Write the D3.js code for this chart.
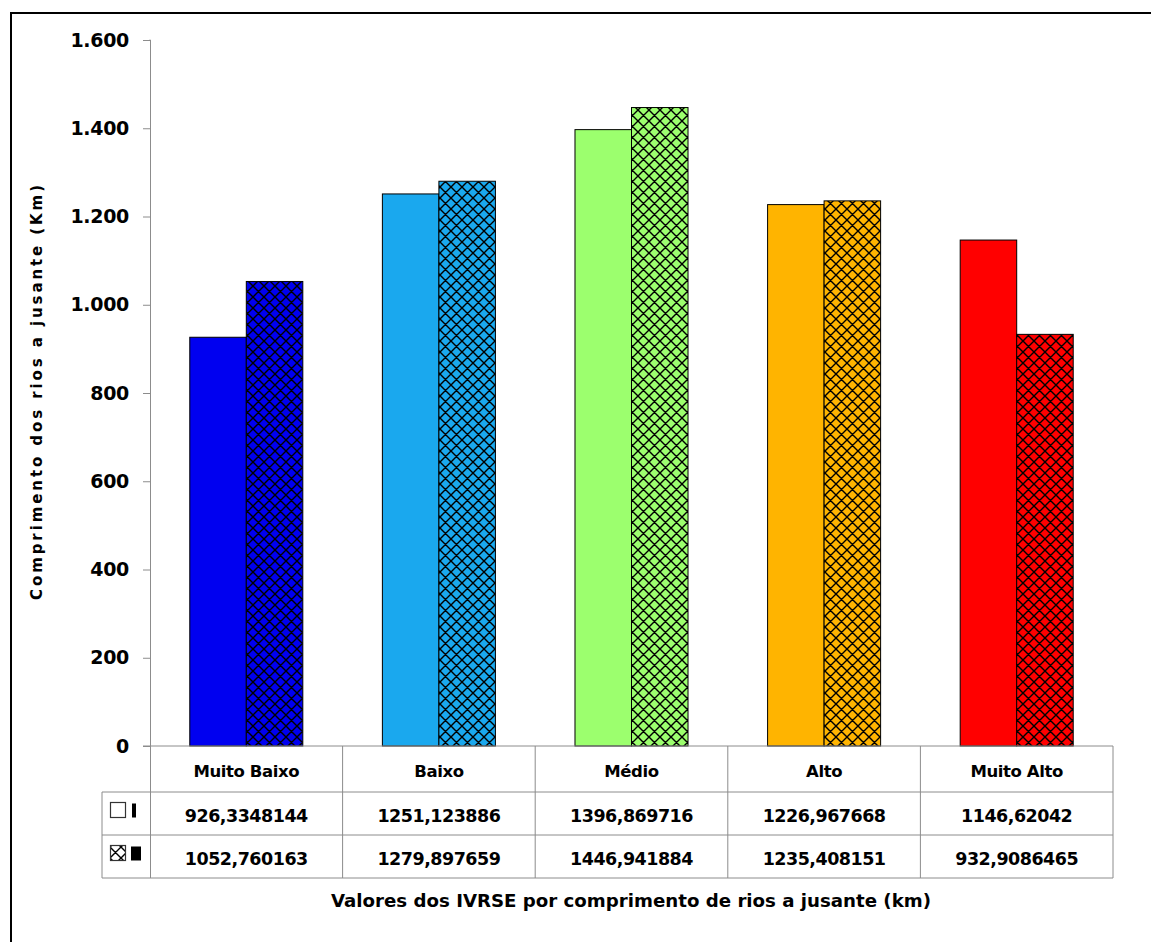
<!DOCTYPE html>
<html>
<head>
<meta charset="utf-8">
<script src="https://cdn.jsdelivr.net/npm/d3@7"></script>
<style>
  html, body { margin: 0; padding: 0; background: #fff; }
  svg { display: block; }
  text { font-family: "DejaVu Sans", Verdana, sans-serif; font-weight: bold; fill: #000; }
</style>
</head>
<body>
<svg id="chart" width="1151" height="942"></svg>
<script>
// IVRSE classes and downstream river length (km) for two series
const categories = ["Muito Baixo", "Baixo", "Médio", "Alto", "Muito Alto"];
const serie1 = [926.3348144, 1251.123886, 1396.869716, 1226.967668, 1146.62042];
const serie2 = [1052.760163, 1279.897659, 1446.941884, 1235.408151, 932.9086465];
const yTicks = [0, 200, 400, 600, 800, 1000, 1200, 1400, 1600];
const yTickLabels = ["0", "200", "400", "600", "800", "1.000", "1.200", "1.400", "1.600"];
const classColors = ["#0000F0", "#1AA8EE", "#9CFF6E", "#FFB400", "#FF0000"];
const yTitle = "Comprimento dos rios a jusante (Km)";
const xTitle = "Valores dos IVRSE por comprimento de rios a jusante (km)";

const svg = d3.select("#chart");
const gridColor = "#8c8c8c";

// layout
const plotLeft = 150, plotRight = 1113, plotTop = 40, plotBottom = 746;
const rowLines = [746, 792, 835, 878];
const legendLeft = 102;

const x = d3.scaleBand().domain(categories).range([plotLeft, plotRight]).padding(0);
const xs = d3.scaleBand().domain([0, 1]).range([0, x.bandwidth()])
  .paddingInner(0).paddingOuter(0.704);
const y = d3.scaleLinear().domain([0, 1600]).range([plotBottom, plotTop]);

// cross-hatch patterns, one per class colour
const defs = svg.append("defs");
function hatch(id, bg) {
  const p = defs.append("pattern").attr("id", id)
    .attr("patternUnits", "userSpaceOnUse").attr("width", 11).attr("height", 11);
  p.append("rect").attr("width", 11).attr("height", 11).attr("fill", bg);
  p.append("path").attr("d", "M0,0 L11,11 M11,0 L0,11 M-1,10 L1,12 M10,-1 L12,1 M-1,1 L1,-1 M10,12 L12,10")
    .attr("stroke", "#000").attr("stroke-width", 1.4).attr("fill", "none");
}
classColors.forEach((c, i) => hatch("hatch" + i, c));
hatch("hatchKey", "#fff");

// outer frame (top and left edges)
svg.append("path").attr("d", "M11,942 L11,13 L1151,13")
  .attr("fill", "none").attr("stroke", "#000").attr("stroke-width", 2);

// bars
const bars = svg.append("g");
categories.forEach((cat, i) => {
  bars.append("rect")
    .attr("x", x(cat) + xs(0)).attr("width", xs.bandwidth())
    .attr("y", y(serie1[i])).attr("height", y(0) - y(serie1[i]))
    .attr("fill", classColors[i]).attr("stroke", "#000").attr("stroke-width", 1);
  bars.append("rect")
    .attr("x", x(cat) + xs(1)).attr("width", xs.bandwidth())
    .attr("y", y(serie2[i])).attr("height", y(0) - y(serie2[i]))
    .attr("fill", "url(#hatch" + i + ")").attr("stroke", "#000").attr("stroke-width", 1);
});

// y axis
const yAxis = d3.axisLeft(y).tickValues(yTicks)
  .tickFormat((d, i) => yTickLabels[i]).tickSize(7).tickPadding(14);
const ya = svg.append("g").attr("transform", `translate(${plotLeft},0)`).call(yAxis);
ya.select(".domain").attr("stroke", gridColor).attr("d", `M-0.5,${plotTop}H0.5V${rowLines[3]}`);
ya.selectAll(".tick line").attr("stroke", gridColor);
ya.selectAll(".tick text").style("font-size", "19px")
  .style("font-family", "'DejaVu Sans', sans-serif").style("font-weight", "bold")
  .style("letter-spacing", "-0.3px");

// data table grid
const table = svg.append("g").attr("stroke", gridColor).attr("stroke-width", 1).attr("fill", "none");
table.append("line").attr("x1", plotLeft - 7).attr("x2", plotRight).attr("y1", rowLines[0]).attr("y2", rowLines[0]);
rowLines.slice(1).forEach(ry => {
  table.append("line").attr("x1", legendLeft).attr("x2", plotRight).attr("y1", ry).attr("y2", ry);
});
table.append("line").attr("x1", legendLeft).attr("x2", legendLeft).attr("y1", rowLines[1]).attr("y2", rowLines[3]);
categories.forEach(cat => {
  const cx = x(cat) + x.bandwidth();
  table.append("line").attr("x1", cx).attr("x2", cx).attr("y1", rowLines[0]).attr("y2", rowLines[3]);
});

// table text
const fmt = v => String(v).replace(".", ",");
const rowsText = [categories, serie1.map(fmt), serie2.map(fmt)];
rowsText.forEach((row, r) => {
  const cy = (rowLines[r] + rowLines[r + 1]) / 2 + 2;
  svg.append("g").selectAll("text").data(row).join("text")
    .attr("x", (d, i) => x(categories[i]) + x.bandwidth() / 2)
    .attr("y", cy)
    .attr("text-anchor", "middle")
    .attr("dominant-baseline", "central")
    .style("font-size", r === 0 ? "16.5px" : "17.5px")
    .style("letter-spacing", r === 0 ? "-0.4px" : "-0.5px")
    .text(d => d);
});

// legend keys in the table
const k1 = (rowLines[1] + rowLines[2]) / 2 - 4;
const k2 = (rowLines[2] + rowLines[3]) / 2 - 4;
svg.append("rect").attr("x", 110.5).attr("y", k1 - 7).attr("width", 15).attr("height", 15)
  .attr("fill", "#fff").attr("stroke", "#333").attr("stroke-width", 1.2);
svg.append("rect").attr("x", 132).attr("y", k1 - 6).attr("width", 4).attr("height", 14).attr("fill", "#000");
svg.append("rect").attr("x", 110.5).attr("y", k2 - 7).attr("width", 15).attr("height", 15)
  .attr("fill", "url(#hatchKey)").attr("stroke", "#333").attr("stroke-width", 1.2);
svg.append("rect").attr("x", 131).attr("y", k2 - 6).attr("width", 10).attr("height", 14).attr("fill", "#000");

// axis titles
svg.append("text")
  .attr("transform", `translate(37,${(185 + 600) / 2}) rotate(-90)`)
  .attr("text-anchor", "middle").attr("dominant-baseline", "central")
  .attr("textLength", 415).attr("lengthAdjust", "spacing")
  .style("font-size", "15px")
  .text(yTitle);

svg.append("text")
  .attr("x", 631).attr("y", 900)
  .attr("text-anchor", "middle").attr("dominant-baseline", "central")
  .attr("textLength", 600).attr("lengthAdjust", "spacingAndGlyphs")
  .style("font-size", "18px")
  .text(xTitle);
</script>
</body>
</html>
